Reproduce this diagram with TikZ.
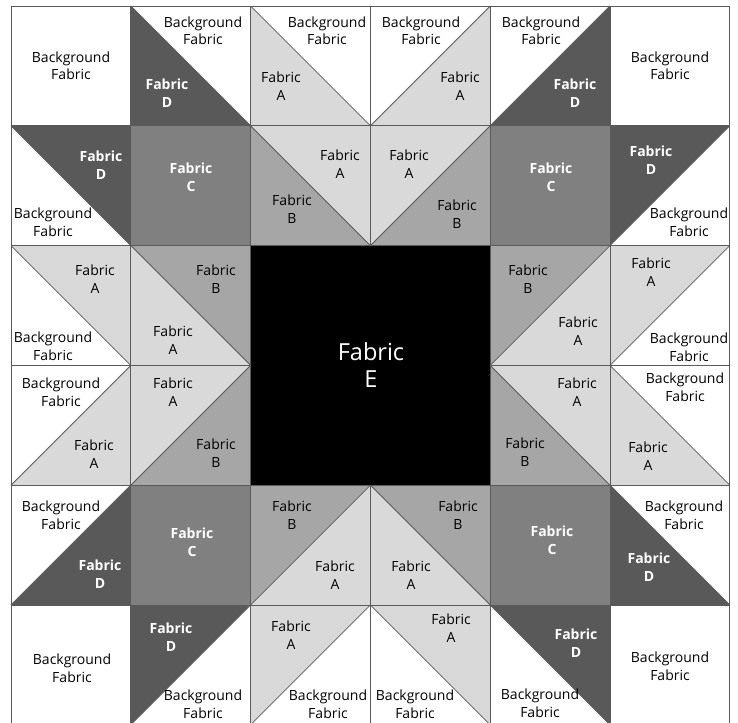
\documentclass[tikz,border=0pt]{standalone}
\usepackage{fontspec}
\setmainfont{Open Sans}
\usepackage{tikz}

\definecolor{fabA}{HTML}{D9D9D9}
\definecolor{fabB}{HTML}{A6A6A6}
\definecolor{fabC}{HTML}{808080}
\definecolor{fabD}{HTML}{595959}
\definecolor{seamgray}{HTML}{5A5A5A}

\begin{document}
\begin{tikzpicture}[x = 1pt, y = -1pt,
    seam/.style = {draw = seamgray, line width = 0.8pt},
    lab/.style = {align = center, inner sep = 0pt, text = black, font = \fontsize{14}{17.5}\selectfont},
    labw/.style = {lab, text = white, font = \fontsize{14}{17.5}\selectfont\bfseries},
    labE/.style = {lab, text = white, font = \fontsize{23.5}{27}\selectfont}]
  \useasboundingbox (0,0) rectangle (738,722);
  \clip (0,0) rectangle (738,722);
  \fill[white] (0,0) rectangle (738,722);
  % blocks: col/row/seam (0 none, 1 = \, 2 = /)/upper fill/lower fill
  \foreach \c/\r/\d/\fa/\fb in {
      0/0/0/white/white, 1/0/1/white/fabD, 2/0/1/white/fabA, 3/0/2/white/fabA, 4/0/2/white/fabD, 5/0/0/white/white,
      0/1/1/fabD/white, 1/1/0/fabC/fabC, 2/1/1/fabA/fabB, 3/1/2/fabA/fabB, 4/1/0/fabC/fabC, 5/1/2/fabD/white,
      0/2/1/fabA/white, 1/2/1/fabB/fabA, 4/2/2/fabB/fabA, 5/2/2/fabA/white,
      0/3/2/white/fabA, 1/3/2/fabA/fabB, 4/3/1/fabA/fabB, 5/3/1/white/fabA,
      0/4/2/white/fabD, 1/4/0/fabC/fabC, 2/4/2/fabB/fabA, 3/4/1/fabB/fabA, 4/4/0/fabC/fabC, 5/4/1/white/fabD,
      0/5/0/white/white, 1/5/2/fabD/white, 2/5/2/fabA/white, 3/5/1/fabA/white, 4/5/1/fabD/white, 5/5/0/white/white}
  {
    \coordinate (b-\c-\r) at ({11+\c*119.8}, {6+\r*119.8});
    \fill[\fa] (b-\c-\r) rectangle ++(119.8,119.8);
    \ifcase\d
    \or
      \fill[\fb] (b-\c-\r) -- ++(0,119.8) -- ++(119.8,0) -- cycle;
      \draw[seam] (b-\c-\r) -- ++(119.8,119.8);
    \or
      \fill[\fb] ([xshift=119.8pt]b-\c-\r) -- ++(0,119.8) -- ++(-119.8,0) -- cycle;
      \draw[seam] ([yshift=-119.8pt]b-\c-\r) -- ++(119.8,-119.8);
    \fi
    \draw[seam] (b-\c-\r) rectangle ++(119.8,119.8);
  }
  % centre square
  \coordinate (e-tl) at (250.6,245.6);
  \fill[black] (e-tl) rectangle ++(239.6,239.6);
  \node[labE] (fabE) at (371,365) {Fabric\\E};
  % background labels
  \foreach \x/\y [count=\i] in {71/66, 203/31, 327/31, 421/31, 541/31, 670/66,
      53/222, 689/222, 53/346, 689/347, 61/392, 685/387, 61/515, 684/515,
      72/668, 203/704, 328/704, 415/704, 540/703, 670/666}
    \node[lab] (bg\i) at (\x,\y) {Background\\Fabric};
  % light fabric labels
  \foreach \x/\y/\f [count=\i] in {281/86/A, 460/86/A, 340/164/A, 292/209/B, 409/164/A, 457/214/B,
      95/279/A, 216/279/B, 173/340/A, 528/279/B, 578/331/A, 651/272/A,
      94/454/A, 173/392/A, 216/453/B, 577/392/A, 525/452/B, 648/456/A,
      292/515/B, 335/575/A, 458/515/B, 411/575/A, 291/635/A, 451/628/A}
    \node[lab] (fl\i) at (\x,\y) {Fabric\\\f};
  % dark fabric labels
  \foreach \x/\y/\f [count=\i] in {167/93/D, 575/93/D, 101/165/D, 191/177/C, 551/177/C, 651/160/D,
      100/574/D, 192/542/C, 552/540/C, 649/567/D, 171/637/D, 576/643/D}
    \node[labw] (fd\i) at (\x,\y) {Fabric\\\f};
\end{tikzpicture}
\end{document}
